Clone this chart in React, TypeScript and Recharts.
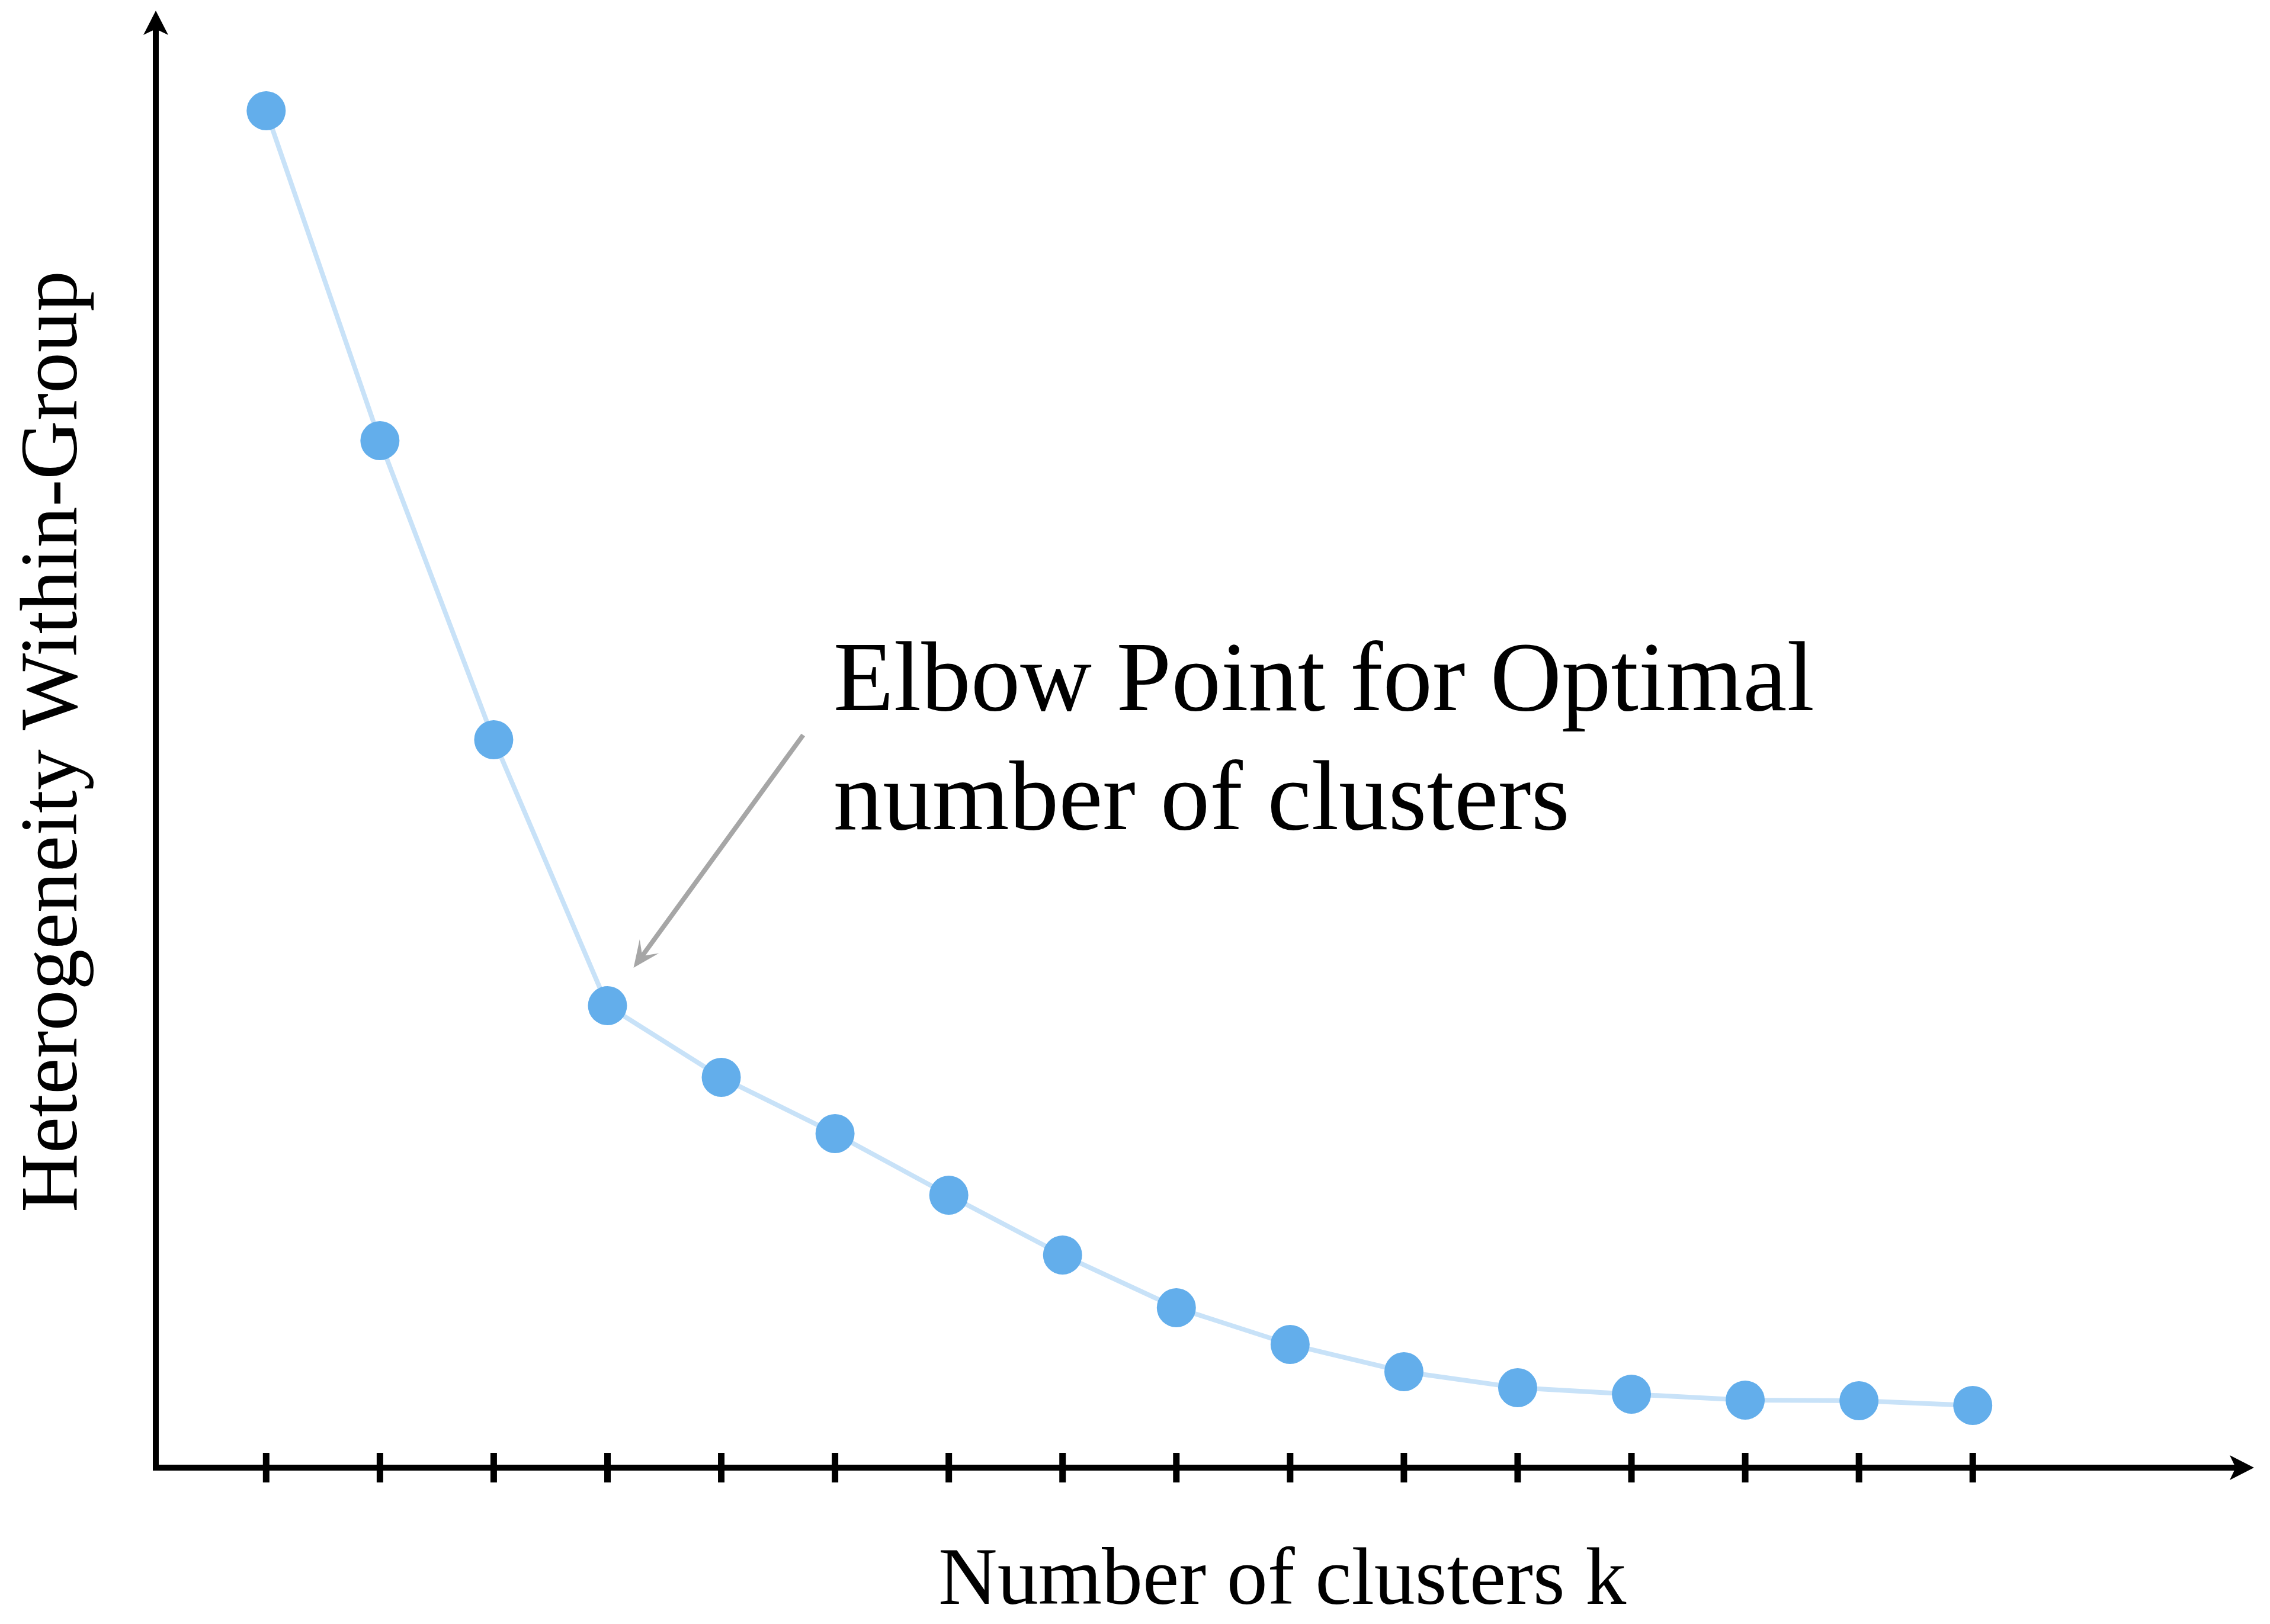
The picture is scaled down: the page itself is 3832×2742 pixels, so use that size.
import React from 'react';
import { LineChart, Line, XAxis, YAxis, ReferenceLine } from 'recharts';

// ---- data ----
const clusterCounts = [1, 2, 3, 4, 5, 6, 7, 8, 9, 10, 11, 12, 13, 14, 15, 16];
const heterogeneity = [229.1, 173.4, 122.9, 78.0, 65.9, 56.4, 46.0, 35.9, 27.0, 20.8, 16.2, 13.5, 12.4, 11.4, 11.3, 10.5];
const xTicks = [1, 2, 3, 4, 5, 6, 7, 8, 9, 10, 11, 12, 13, 14, 15, 16];
const xDomain = [0.03, 18.42];
const yDomain = [0, 245];
const elbowArrowFrom = { k: 5.72, v: 123.7 };
const elbowArrowTo = { k: 4.26, v: 85.2 };
const annotationLines = ['Elbow Point for Optimal', 'number of clusters'];
const xAxisTitle = 'Number of clusters k';
const yAxisTitle = 'Heterogeneity Within-Group';

const data = clusterCounts.map((k, i) => ({ k, v: heterogeneity[i] }));

const FONT = '"Liberation Serif", "Times New Roman", serif';

function headPoints(x1: number, y1: number, x2: number, y2: number, ext: number, len: number, notch: number, half: number) {
  const dx = x2 - x1;
  const dy = y2 - y1;
  const L = Math.hypot(dx, dy) || 1;
  const ux = dx / L;
  const uy = dy / L;
  const nx = -uy;
  const ny = ux;
  const tx = x2 + ux * ext;
  const ty = y2 + uy * ext;
  const pts = [
    [tx, ty],
    [tx - ux * len + nx * half, ty - uy * len + ny * half],
    [tx - ux * notch, ty - uy * notch],
    [tx - ux * len - nx * half, ty - uy * len - ny * half],
  ];
  return pts.map((p) => `${p[0]},${p[1]}`).join(' ');
}

const XAxisArrow = (props: any) => {
  const x1 = Number(props.x1), x2 = Number(props.x2), y = Number(props.y1);
  const left = Math.min(x1, x2);
  const right = Math.max(x1, x2);
  return (
    <g>
      <line x1={left - 5} y1={y} x2={right} y2={y} stroke="#000" strokeWidth={10} />
      <polygon points={headPoints(left, y, right, y, 10, 41, 31, 21)} fill="#000" />
    </g>
  );
};

const YAxisArrow = (props: any) => {
  const y1 = Number(props.y1), y2 = Number(props.y2), x = Number(props.x1);
  const top = Math.min(y1, y2);
  const bottom = Math.max(y1, y2);
  return (
    <g>
      <line x1={x} y1={bottom + 5} x2={x} y2={top} stroke="#000" strokeWidth={10} />
      <polygon points={headPoints(x, bottom, x, top, 10, 41, 31, 21)} fill="#000" />
    </g>
  );
};

const ElbowArrow = (props: any) => {
  const x1 = Number(props.x1), y1 = Number(props.y1), x2 = Number(props.x2), y2 = Number(props.y2);
  return (
    <g>
      <line x1={x1} y1={y1} x2={x2} y2={y2} stroke="#A6A6A6" strokeWidth={8} />
      <polygon points={headPoints(x1, y1, x2, y2, 10, 45, 25, 20)} fill="#A6A6A6" />
      <text x={x1 + 51} y={y1 - 42} fontFamily={FONT} fontSize={167} fill="#000">
        {annotationLines[0]}
      </text>
      <text x={x1 + 51} y={y1 + 159} fontFamily={FONT} fontSize={167} fill="#000">
        {annotationLines[1]}
      </text>
    </g>
  );
};

const TickMark = (props: any) => {
  const x = Number(props.x);
  const y = Number(props.y);
  return <line x1={x} y1={y - 25} x2={x} y2={y + 25} stroke="#000" strokeWidth={11} />;
};

const XTitle = () => (
  <text x={1584} y={2708} fontFamily={FONT} fontSize={138} fill="#000" textAnchor="start">
    {xAxisTitle}
  </text>
);

const YTitle = () => (
  <text
    x={129}
    y={1252}
    fontFamily={FONT}
    fontSize={138}
    fill="#000"
    textAnchor="middle"
    transform="rotate(-90, 129, 1252)"
  >
    {yAxisTitle}
  </text>
);

export default function App() {
  return (
    <div style={{ position: 'absolute', left: 0, top: 0, background: '#fff' }}>
      <LineChart
        width={3832}
        height={2742}
        data={data}
        margin={{ top: 28, right: 37, bottom: 0, left: 0 }}
        style={{ fontFamily: FONT }}
      >
        <XAxis
          type="number"
          dataKey="k"
          domain={xDomain}
          ticks={xTicks}
          interval={0}
          allowDataOverflow
          axisLine={false}
          tickLine={false}
          tickSize={0}
          tickMargin={0}
          height={264}
          tick={TickMark}
          label={XTitle}
        />
        <YAxis
          type="number"
          domain={yDomain}
          allowDataOverflow
          width={263}
          axisLine={false}
          tickLine={false}
          tick={false}
          label={YTitle}
        />
        <ReferenceLine y={0} ifOverflow="visible" shape={XAxisArrow} />
        <ReferenceLine x={xDomain[0]} ifOverflow="visible" shape={YAxisArrow} />
        <ReferenceLine
          segment={[
            { x: elbowArrowFrom.k, y: elbowArrowFrom.v },
            { x: elbowArrowTo.k, y: elbowArrowTo.v },
          ]}
          ifOverflow="visible"
          shape={ElbowArrow}
        />
        <Line
          type="linear"
          dataKey="v"
          stroke="#C8E2F8"
          strokeWidth={8}
          dot={{ r: 33, fill: '#63AEEB', stroke: 'none', strokeWidth: 0 }}
          activeDot={false}
          isAnimationActive={false}
        />
      </LineChart>
    </div>
  );
}
